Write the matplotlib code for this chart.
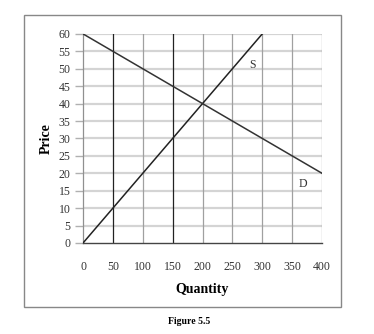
import matplotlib.pyplot as plt
from matplotlib.patches import Rectangle

# supply and demand data
supply_q = [0, 300]
supply_p = [0, 60]
demand_q = [0, 400]
demand_p = [60, 20]
x_ticks = [0, 50, 100, 150, 200, 250, 300, 350, 400]
y_ticks = [0, 5, 10, 15, 20, 25, 30, 35, 40, 45, 50, 55, 60]
dark_lines = [50, 150]

plt.rcParams['font.family'] = ['Liberation Serif', 'DejaVu Serif']

fig = plt.figure(figsize=(3.74, 3.34), dpi=100)
ax = fig.add_axes([0.222, 0.2725, 0.639, 0.626])

# outer frame
fig.patches.append(Rectangle((24 / 374, 1 - 307 / 334), 317 / 374, 292 / 334,
                             transform=fig.transFigure, fill=False,
                             edgecolor='#888888', lw=1.0))

for y in y_ticks[1:]:
    ax.axhline(y, color='#d4d4d4', lw=1.6, zorder=1)
for x in x_ticks[1:]:
    c = '#222222' if x in dark_lines else '#a0a0a0'
    ax.axvline(x, color=c, lw=0.9, zorder=2)

ax.plot(supply_q, supply_p, color='#222222', lw=1.1, zorder=3)
ax.plot(demand_q, demand_p, color='#333333', lw=1.1, zorder=3)
ax.text(283, 51, 'S', fontsize=8.5, color='#333333', ha='center', va='center')
ax.text(368, 17, 'D', fontsize=8.5, color='#333333', ha='center', va='center')

ax.set_xlim(0, 400)
ax.set_ylim(0, 60)
ax.set_xticks(x_ticks)
ax.set_yticks(y_ticks)
ax.tick_params(axis='x', length=0, labelsize=8.5, labelcolor='#333333', pad=13)
ax.tick_params(axis='y', length=6, width=1.0, color='#b0b0b0', labelsize=8.5,
               labelcolor='#333333', pad=3)
for s in ['top', 'right']:
    ax.spines[s].set_visible(False)
ax.spines['left'].set_color('#909090')
ax.spines['left'].set_linewidth(0.9)
ax.spines['bottom'].set_color('#444444')
ax.spines['bottom'].set_linewidth(1.0)
ax.set_yticks([0], minor=True)
ax.tick_params(axis='y', which='minor', length=6, color='#444444')

ax.set_xlabel('Quantity', fontsize=10, fontweight='bold', labelpad=7)
ax.set_ylabel('Price', fontsize=10, fontweight='bold', labelpad=4)
fig.text(189 / 374, 1 - 321 / 334, 'Figure 5.5', fontsize=7, fontweight='bold',
         ha='center', va='center')

fig.savefig('out.png', dpi=100)
